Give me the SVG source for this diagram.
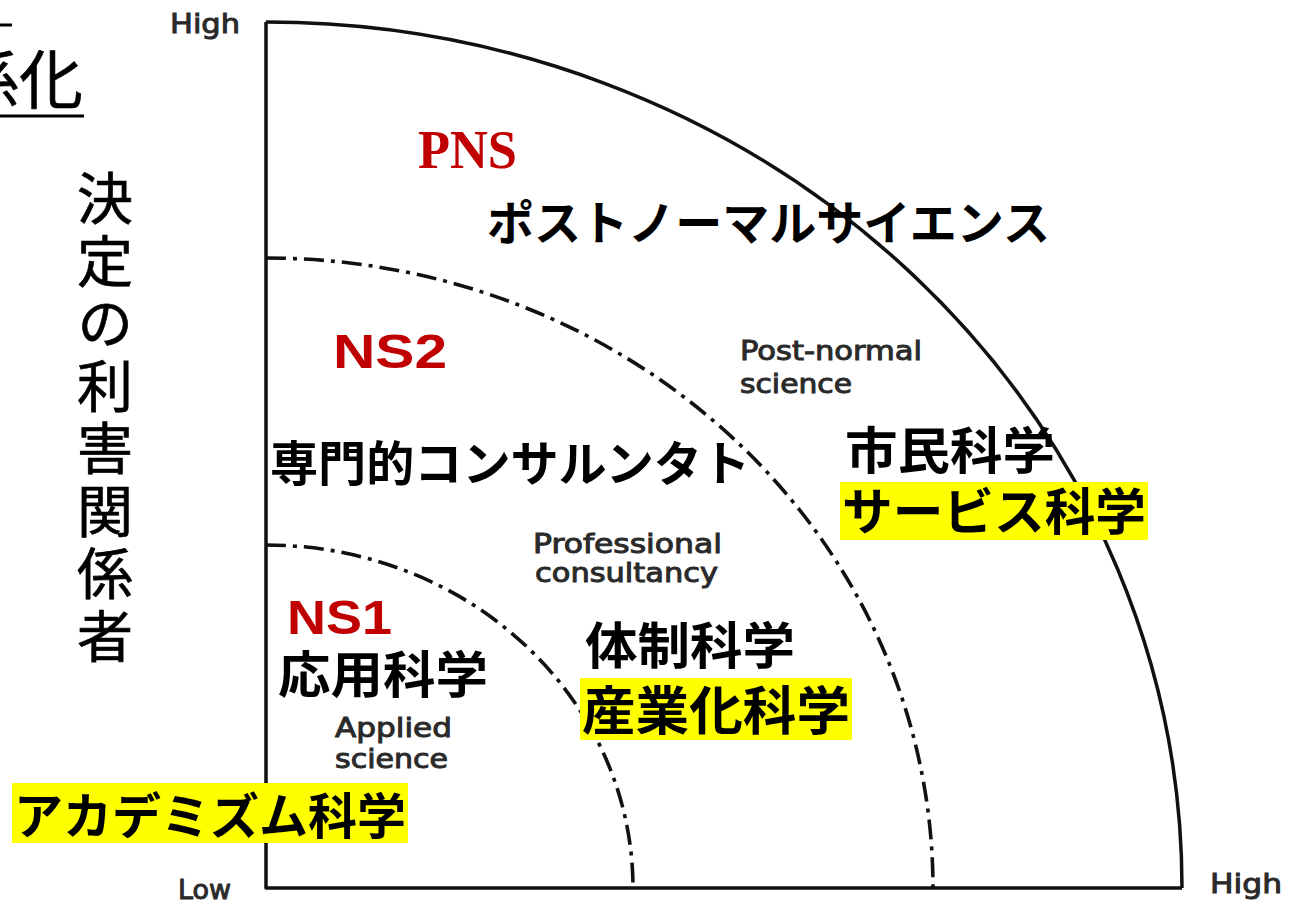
<svg xmlns="http://www.w3.org/2000/svg" width="1293" height="904" viewBox="0 0 1293 904">
<style>
.ax{fill:none;stroke:#111;stroke-width:3.5;stroke-linejoin:round}
.dd{fill:none;stroke:#111;stroke-width:3.6;stroke-dasharray:20 7 4 7}
.en{font-family:"DejaVu Sans","Liberation Sans",sans-serif;font-size:27px;fill:#2a2a2a;stroke:#2a2a2a;stroke-width:1}
.jp{font-family:"Noto Sans CJK JP","Noto Sans CJK SC",sans-serif;font-weight:bold;fill:#000}
.red{font-family:"Liberation Sans",Arial,sans-serif;font-weight:bold;fill:#c00000}
.vt{font-family:"Noto Sans CJK JP","Noto Sans CJK SC",sans-serif;font-size:56px;font-weight:normal;fill:#000;stroke:#000;stroke-width:0.7;writing-mode:vertical-rl;letter-spacing:6.5px}
.hl{fill:#ffff00}
</style>
<rect x="0" y="0" width="1293" height="904" fill="#fff"/>
<g id="title-fragment">
<line x1="0" y1="25" x2="12" y2="25" stroke="#000" stroke-width="3"/>
<text x="83" y="103" text-anchor="end" style="font-family:'Noto Sans CJK JP',sans-serif;font-size:64px;fill:#000;stroke:#000;stroke-width:0.6">係化</text>
<line x1="0" y1="116" x2="84" y2="116" stroke="#000" stroke-width="3"/>
</g>
<g id="y-axis-label">
<text class="vt" x="105" y="170">決定の利害関係者</text>
</g>
<g id="connectors">
<path class="ax" d="M266,22 L266,888 L1182,888"/>
<path class="ax" d="M266,22 A916,866 0 0 1 1182,888"/>
<path class="dd" d="M266,258 A667,630 0 0 1 933,888"/>
<path class="dd" d="M266,545 A367,343 0 0 1 633,888"/>
</g>
<g id="axis-labels">
<text class="en" x="170" y="33" textLength="70" lengthAdjust="spacingAndGlyphs">High</text>
<text class="en" x="178" y="899" textLength="53" lengthAdjust="spacingAndGlyphs">Low</text>
<text class="en" x="1210" y="893" textLength="72" lengthAdjust="spacingAndGlyphs">High</text>
</g>
<g id="pns">
<text x="418" y="168" style="font-family:'Liberation Serif',serif;font-weight:bold;font-size:54px;fill:#c00000" textLength="99" lengthAdjust="spacingAndGlyphs">PNS</text>
<text class="jp" x="487" y="240" font-size="47" textLength="563" lengthAdjust="spacingAndGlyphs">ポストノーマルサイエンス</text>
<text class="en" x="740" y="360" textLength="182" lengthAdjust="spacingAndGlyphs">Post-normal</text>
<text class="en" x="740" y="393" textLength="112" lengthAdjust="spacingAndGlyphs">science</text>
<text class="jp" x="845" y="469" font-size="50" textLength="210" lengthAdjust="spacingAndGlyphs">市民科学</text>
<rect class="hl" x="840" y="482" width="308" height="58"/>
<text class="jp" x="842" y="530" font-size="50" textLength="304" lengthAdjust="spacingAndGlyphs">サービス科学</text>
</g>
<g id="ns2">
<text class="red" x="333" y="368" font-size="48" textLength="114" lengthAdjust="spacingAndGlyphs">NS2</text>
<text class="jp" x="270" y="481" font-size="48" textLength="480" lengthAdjust="spacingAndGlyphs">専門的コンサルンタト</text>
<text class="en" x="533" y="553" textLength="189" lengthAdjust="spacingAndGlyphs">Professional</text>
<text class="en" x="535" y="582" textLength="183" lengthAdjust="spacingAndGlyphs">consultancy</text>
<text class="jp" x="585" y="664" font-size="50" textLength="210" lengthAdjust="spacingAndGlyphs">体制科学</text>
<rect class="hl" x="580" y="678" width="272" height="62"/>
<text class="jp" x="582" y="730" font-size="52" textLength="268" lengthAdjust="spacingAndGlyphs">産業化科学</text>
</g>
<g id="ns1">
<text class="red" x="287" y="634" font-size="48" textLength="105" lengthAdjust="spacingAndGlyphs">NS1</text>
<text class="jp" x="278" y="693" font-size="50" textLength="210" lengthAdjust="spacingAndGlyphs">応用科学</text>
<text class="en" x="335" y="737" textLength="117" lengthAdjust="spacingAndGlyphs">Applied</text>
<text class="en" x="335" y="768" textLength="113" lengthAdjust="spacingAndGlyphs">science</text>
<rect class="hl" x="12" y="783" width="396" height="60"/>
<text class="jp" x="14" y="834" font-size="49" textLength="392" lengthAdjust="spacingAndGlyphs">アカデミズム科学</text>
</g>
</svg>
